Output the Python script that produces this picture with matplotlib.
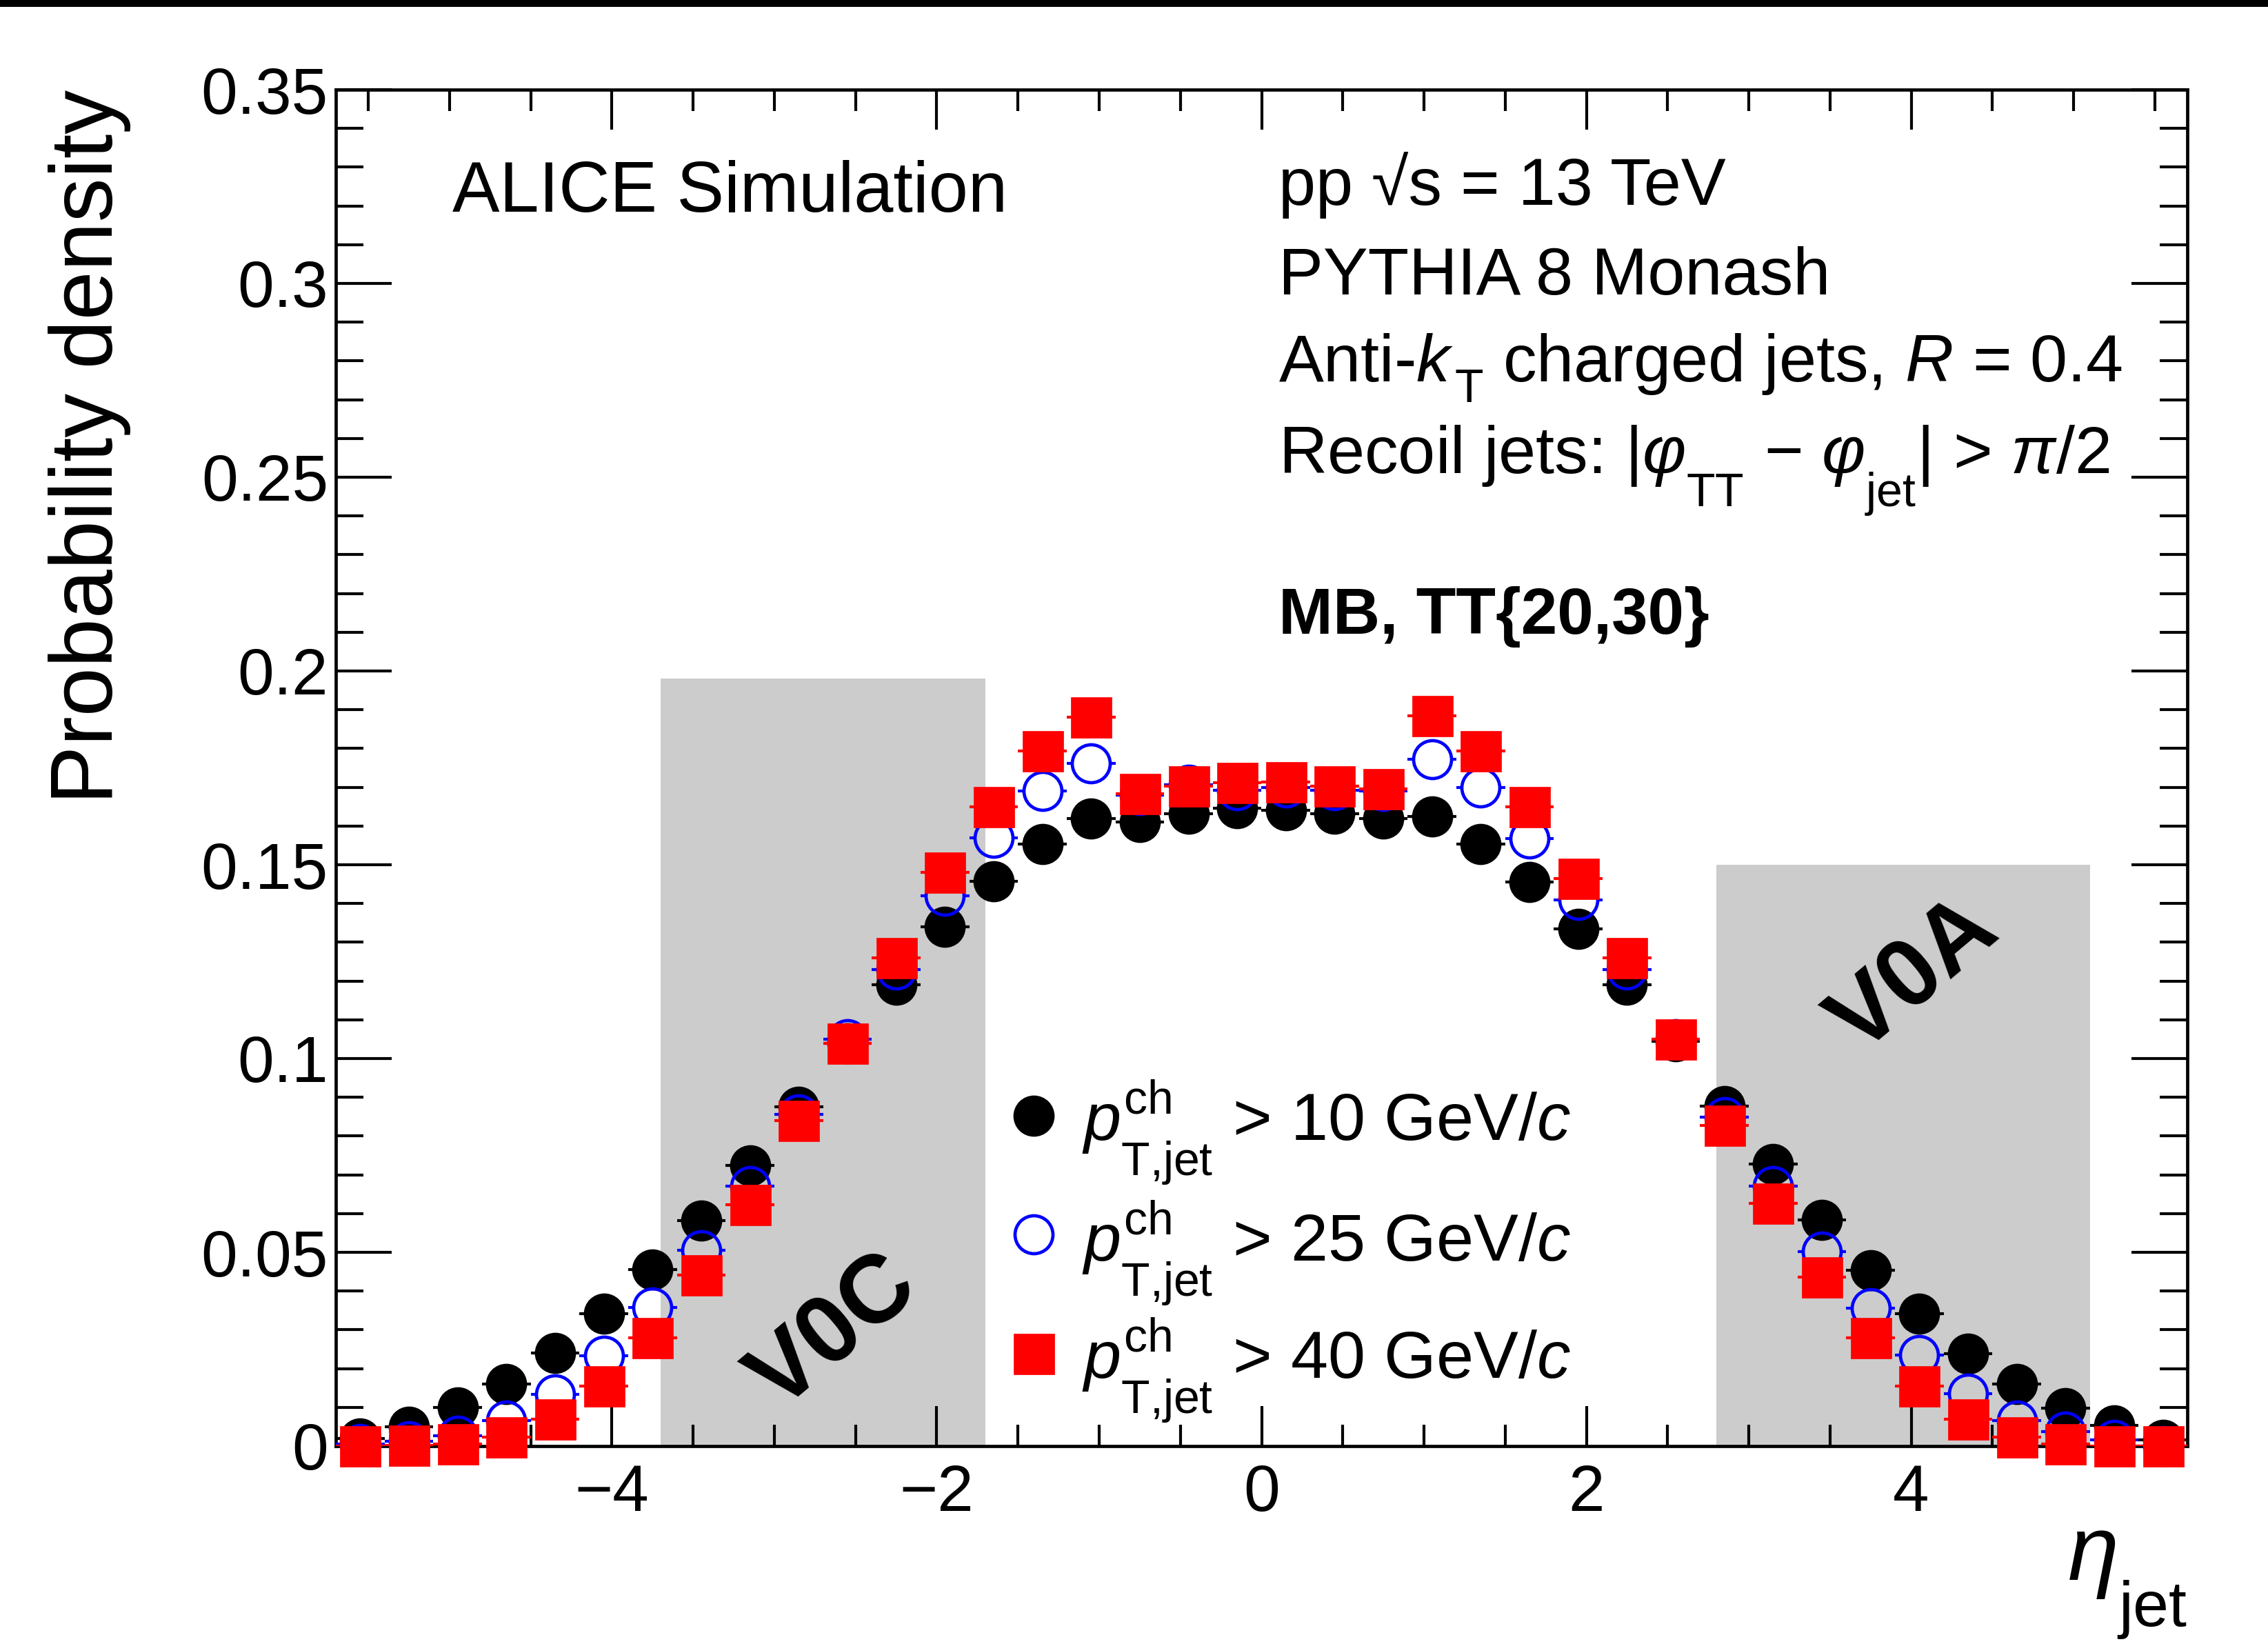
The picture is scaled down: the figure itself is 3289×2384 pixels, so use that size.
import numpy as np
import matplotlib
matplotlib.use("Agg")
import matplotlib.pyplot as plt
import matplotlib._mathtext as mathtext_core
from matplotlib.patches import Rectangle
from matplotlib.ticker import MultipleLocator, FormatStrFormatter
from matplotlib.transforms import offset_copy

plt.rcParams['font.family'] = ['Liberation Sans', 'DejaVu Sans']
plt.rcParams['mathtext.fontset'] = 'custom'
plt.rcParams['mathtext.rm'] = 'Liberation Sans'
plt.rcParams['mathtext.it'] = 'Liberation Sans:italic'
plt.rcParams['mathtext.bf'] = 'Liberation Sans:bold'
plt.rcParams['axes.unicode_minus'] = True

# deeper subscripts, in the style of ROOT's TLatex
mathtext_core.FontConstantsBase.sub1 = 0.95
mathtext_core.FontConstantsBase.sub2 = 1.0
mathtext_core.FontConstantsBase.sup1 = 0.75

# ---- data: jet pseudorapidity distributions (bin width 0.3) ----
eta_lo, eta_hi, bin_width = -5.7, 5.7, 0.3
eta_centers = np.arange(eta_lo + bin_width / 2, eta_hi, bin_width)

dens_pt10 = [0.0020, 0.0049, 0.0099, 0.0161, 0.0240, 0.0342, 0.0455, 0.0582, 0.0725, 0.0875,
             0.1040, 0.1190, 0.1340, 0.1458, 0.1553, 0.1619, 0.1611, 0.1632, 0.1646, 0.1640,
             0.1632, 0.1619, 0.1625, 0.1553, 0.1455, 0.1335, 0.1190, 0.1045, 0.0878, 0.0727,
             0.0584, 0.0453, 0.0342, 0.0239, 0.0160, 0.0097, 0.0054, 0.0016]
dens_pt25 = [0.0006, 0.0012, 0.0026, 0.0065, 0.0133, 0.0233, 0.0357, 0.0505, 0.0670, 0.0855,
             0.1050, 0.1230, 0.1420, 0.1570, 0.1690, 0.1762, 0.1680, 0.1707, 0.1693, 0.1700,
             0.1693, 0.1690, 0.1773, 0.1700, 0.1567, 0.1410, 0.1230, 0.1050, 0.0849, 0.0670,
             0.0501, 0.0356, 0.0235, 0.0135, 0.0065, 0.0038, 0.0016, 0.0000]
dens_pt40 = [0.0000, 0.0001, 0.0006, 0.0023, 0.0070, 0.0154, 0.0280, 0.0442, 0.0623, 0.0840,
             0.1040, 0.1260, 0.1480, 0.1650, 0.1793, 0.1880, 0.1684, 0.1703, 0.1711, 0.1714,
             0.1703, 0.1696, 0.1884, 0.1793, 0.1650, 0.1464, 0.1260, 0.1050, 0.0828, 0.0627,
             0.0436, 0.0280, 0.0154, 0.0070, 0.0024, 0.0005, 0.0000, 0.0000]

series_labels = [r'$p_{\rm T{,}jet}^{\rm ch}$ > 10 GeV/$c$',
                 r'$p_{\rm T{,}jet}^{\rm ch}$ > 25 GeV/$c$',
                 r'$p_{\rm T{,}jet}^{\rm ch}$ > 40 GeV/$c$']

# detector acceptances (eta range, drawn height)
v0c_range, v0c_height = (-3.7, -1.7), 0.198
v0a_range, v0a_height = (2.8, 5.1), 0.150

# ---- figure ----
W, H, DPI = 3289, 2384, 200
fig = plt.figure(figsize=(W / DPI, H / DPI), dpi=DPI)
ax = fig.add_axes([487 / W, 1 - 2097 / H, (3172 - 487) / W, (2097 - 130) / H])
ax.set_xlim(eta_lo, eta_hi)
ax.set_ylim(0, 0.35)
renderer = fig.canvas.get_renderer()

# thin black band along the top edge
fig.patches.append(Rectangle((0, 1 - 10 / H), 1, 10 / H, transform=fig.transFigure,
                             facecolor='black', edgecolor='none'))

gray = '#cccccc'
ax.add_patch(Rectangle((v0c_range[0], 0), v0c_range[1] - v0c_range[0], v0c_height,
                       facecolor=gray, edgecolor='none', zorder=0))
ax.add_patch(Rectangle((v0a_range[0], 0), v0a_range[1] - v0a_range[0], v0a_height,
                       facecolor=gray, edgecolor='none', zorder=0))
ax.text(-2.63, 0.029, 'V0C', fontsize=50, fontweight='bold', rotation=40,
        ha='center', va='center', zorder=1)
ax.text(4.02, 0.121, 'V0A', fontsize=50, fontweight='bold', rotation=40,
        ha='center', va='center', zorder=1)

ms = 19.8
styles = [dict(color='black', marker='o', mfc='black', mec='black'),
          dict(color='blue', marker='o', mfc='none', mec='blue'),
          dict(color='red', marker='s', mfc='red', mec='red')]

# marker half-size in data units, so the bin-width bars stop at the marker edge
px_per_unit = ax.get_position().width * fig.get_figwidth() * fig.dpi / (eta_hi - eta_lo)
gap = (ms / 2) * fig.dpi / 72 / px_per_unit

for i, (vals, st) in enumerate(zip([dens_pt10, dens_pt25, dens_pt40], styles)):
    vals = np.asarray(vals)
    z = 3 + 2 * i
    ax.hlines(vals, eta_centers - bin_width / 2, eta_centers - gap, colors=st['color'],
              linewidth=1.5, zorder=z)
    ax.hlines(vals, eta_centers + gap, eta_centers + bin_width / 2, colors=st['color'],
              linewidth=1.5, zorder=z)
    ax.plot(eta_centers, vals, linestyle='none', marker=st['marker'], ms=ms,
            mfc=st['mfc'], mec=st['mec'], mew=1.7, zorder=z + 1, clip_on=False)

# legend entries
leg_marker_y = [0.2435, 0.156, 0.0681]
leg_text_y = [0.225, 0.1362, 0.0498]
for st, lab, my, ty in zip(styles, series_labels, leg_marker_y, leg_text_y):
    ax.plot([0.3769], [my], transform=ax.transAxes, linestyle='none', marker=st['marker'],
            ms=ms, mfc=st['mfc'], mec=st['mec'], mew=1.7, zorder=10)
    ax.text(0.403, ty, lab, transform=ax.transAxes, fontsize=35, va='baseline', ha='left')


def text_row(x, y, pieces):
    """Draw text pieces one after another; each piece is (text, size, dy_px, gap_px)."""
    dx = 0.0
    for s, size, dy, gap_px in pieces:
        tr = offset_copy(ax.transAxes, fig=fig, x=dx, y=dy, units='dots')
        t = ax.text(x, y, s, transform=tr, fontsize=size, va='baseline', ha='left')
        dx += t.get_window_extent(renderer).width + gap_px


# annotations
tx = 0.509
ax.text(0.0629, 0.910, 'ALICE Simulation', transform=ax.transAxes, fontsize=37,
        va='baseline', ha='left')
ax.text(tx, 0.915, 'pp √s = 13 TeV', transform=ax.transAxes, fontsize=35,
        va='baseline', ha='left')
ax.text(tx, 0.849, 'PYTHIA 8 Monash', transform=ax.transAxes, fontsize=35,
        va='baseline', ha='left')
text_row(tx, 0.785, [('Anti-$k$', 35, 0, 1),
                     ('T', 24.5, -30, 28),
                     ('charged jets, $R$ = 0.4', 35, 0, 0)])
ax.text(tx, 0.717, r'Recoil jets: |$\varphi_{\rm TT}$ − $\varphi_{\rm jet}$| > $\pi$/2',
        transform=ax.transAxes, fontsize=35, va='baseline', ha='left')
ax.text(tx + 0.0003, 0.599, 'MB, TT{20,30}', transform=ax.transAxes, fontsize=34,
        fontweight='bold', va='baseline', ha='left')

# axes styling
for sp in ax.spines.values():
    sp.set_linewidth(1.7)
ax.xaxis.set_major_locator(MultipleLocator(2))
ax.xaxis.set_minor_locator(MultipleLocator(0.5))
ax.yaxis.set_major_locator(MultipleLocator(0.05))
ax.yaxis.set_minor_locator(MultipleLocator(0.01))
ax.yaxis.set_major_formatter(FormatStrFormatter('%g'))
ax.tick_params(which='both', direction='in', top=True, right=True, width=1.5,
               labelsize=34)
ax.tick_params(axis='x', which='major', length=21, pad=9)
ax.tick_params(axis='x', which='minor', length=11)
ax.tick_params(axis='y', which='major', length=29, pad=4)
ax.tick_params(axis='y', which='minor', length=14.4)

ax.set_ylabel('Probability density', fontsize=46, loc='top')
ax.yaxis.set_label_coords(-0.1106, 1.0)
ax.set_xlabel(r'$\eta_{\rm jet}$', fontsize=48, loc='right', va='baseline')
ax.xaxis.set_label_coords(1.0, -0.0985)

fig.savefig('out.png', dpi=DPI, facecolor='white')
